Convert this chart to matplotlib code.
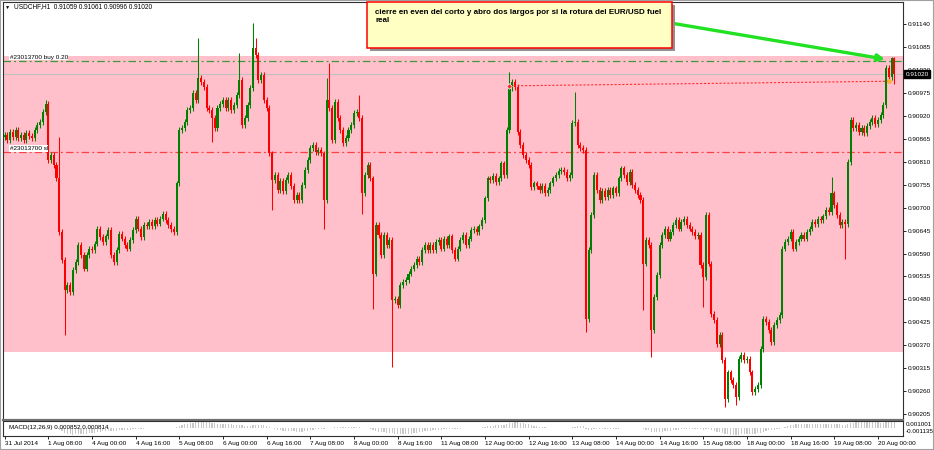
import numpy as np
import pandas as pd
import matplotlib
matplotlib.use('Agg')
import matplotlib.pyplot as plt
from matplotlib.patches import Rectangle
from matplotlib.transforms import blended_transform_factory

plt.rcParams['font.family'] = ['Liberation Sans', 'DejaVu Sans']

# USDCHF H1 closes, in points (1e-5) above 0.90000
closes = [
    874, 862, 881, 869, 886, 866, 874, 862, 878, 871, 866,
    886, 898, 905, 929, 948, 814, 826, 802, 770, 641,
    574, 502, 514, 497, 550, 569, 610, 586, 554, 586,
    602, 598, 614, 650, 629, 617, 631, 646, 586, 569,
    598, 638, 626, 610, 602, 622, 646, 674, 650, 629,
    658, 655, 665, 655, 670, 662, 674, 684, 670, 658,
    648, 641, 758, 886, 890, 905, 934, 938, 974, 958,
    1010, 1001, 989, 938, 934, 914, 890, 938, 948, 958,
    938, 958, 934, 946, 970, 1006, 898, 914, 946, 986,
    1082, 1066, 1006, 1018, 958, 938, 830, 766, 778, 742,
    763, 739, 766, 778, 751, 718, 730, 718, 754, 790,
    814, 843, 850, 833, 838, 830, 718, 958, 938, 862,
    953, 914, 886, 854, 866, 886, 898, 926, 929, 914,
    734, 778, 802, 770, 542, 658, 634, 586, 634, 610,
    622, 478, 482, 466, 514, 521, 526, 542, 554, 562,
    578, 569, 598, 610, 598, 610, 598, 617, 622, 602,
    626, 610, 631, 598, 578, 602, 622, 634, 610, 626,
    646, 650, 641, 655, 670, 722, 770, 766, 775, 761,
    770, 806, 778, 886, 986, 1001, 989, 881, 850, 826,
    814, 802, 749, 758, 751, 742, 751, 734, 742, 758,
    770, 778, 787, 790, 785, 770, 778, 902, 905, 850,
    843, 838, 434, 598, 682, 778, 742, 718, 739, 725,
    742, 730, 746, 734, 770, 794, 778, 761, 785, 754,
    742, 730, 718, 566, 622, 610, 406, 485, 538, 610,
    634, 650, 626, 641, 658, 670, 650, 665, 674, 658,
    650, 641, 631, 634, 562, 533, 682, 566, 446, 430,
    374, 394, 334, 242, 305, 286, 274, 245, 338, 346,
    334, 338, 305, 257, 266, 274, 362, 434, 425, 406,
    377, 418, 430, 442, 602, 617, 626, 641, 602, 617,
    626, 634, 626, 641, 650, 665, 660, 674, 670, 679,
    694, 689, 734, 706, 682, 658, 665, 660, 809, 910,
    890, 898, 881, 890, 878, 895, 905, 914, 900, 910,
    922, 946, 1034, 1013, 1059, 1020,
]
first_open = 870
# wicks that stand out: bar -> (high, low), None = ordinary wick
spikes = {
    15: (958, None), 20: (869, None), 22: (None, 394), 71: (1106, None),
    76: (None, 857), 86: (1070, None), 91: (1142, None), 92: (1106, None),
    98: (None, 694), 117: (None, 650), 118: (1010, None), 119: (1046, None),
    130: (970, None), 131: (None, 686), 135: (None, 458), 142: (None, 317),
    185: (1025, None), 209: (977, None), 213: (None, 401), 234: (None, 454),
    237: (None, 341), 256: (None, 461), 264: (None, 221), 268: (None, 226),
    303: (773, None), 308: (None, 578), 325: (1061, None), 326: (1061, 996),
}
wick = 7  # ordinary wick length, points

time_labels = ['31 Jul 2014', '1 Aug 08:00', '4 Aug 00:00', '4 Aug 16:00', '5 Aug 08:00',
               '6 Aug 00:00', '6 Aug 16:00', '7 Aug 08:00', '8 Aug 00:00', '8 Aug 16:00',
               '11 Aug 08:00', '12 Aug 00:00', '12 Aug 16:00', '13 Aug 08:00', '14 Aug 00:00',
               '14 Aug 16:00', '15 Aug 08:00', '18 Aug 00:00', '18 Aug 16:00', '19 Aug 08:00',
               '20 Aug 00:00']
label_step = 16

band = (353, 1063)
buy_level = 1051
sl_level = 833
bid = 1020
trade_bars = [185, 324]
trade_prices = [992, 1003]
note = 'cierre en even del corto y abro dos largos por si la rotura del EUR/USD fuel\nreal'


def px(v):
    return 0.9 + np.asarray(v, dtype=float) / 1e5


c = np.array(closes, dtype=float)
o = np.r_[first_open, c[:-1]]
hi = np.maximum(o, c) + wick
lo = np.minimum(o, c) - wick
for k, (h, l) in spikes.items():
    if h is not None:
        hi[k] = h
    if l is not None:
        lo[k] = l
n = len(c)
x = np.arange(n)
cols = np.where(c >= o, '#008000', '#FF0000')

fig = plt.figure(figsize=(9.34, 4.5), dpi=100)
W, H = 934, 450
ax = fig.add_axes([3 / W, 1 - 420 / H, 900 / W, 418 / H])
ax2 = fig.add_axes([3 / W, 1 - 436 / H, 900 / W, 15 / H])

xlim = (-0.6, 329.2)
ax.set_xlim(*xlim)
ax.set_ylim(px(191), px(1193))

ax.axhspan(px(band[0]), px(band[1]), color='#FFC0CB', lw=0, zorder=0)
ax.axhline(px(bid), color='#C0C0C0', lw=0.8, zorder=1)
ax.axhline(px(buy_level), color='#3A9A3A', lw=0.9, ls=(0, (6, 2.5, 1.5, 2.5)), zorder=2)
ax.axhline(px(sl_level), color='#FF4040', lw=0.9, ls=(0, (6, 2.5, 1.5, 2.5)), zorder=2)

ax.vlines(x, px(lo), px(hi), colors=cols, lw=0.75, zorder=3)
ax.bar(x, np.maximum(np.abs(c - o), 1) / 1e5, bottom=px(np.minimum(o, c)),
       width=0.75, color=cols, lw=0, zorder=4)

ax.plot(trade_bars, px(trade_prices), color='#FF3030', lw=0.8, ls=(0, (2, 1.5)), zorder=5)
ax.plot(trade_bars[0], px(trade_prices[0]), marker='D', ms=2.8, color='#FF2020',
        mec='white', mew=0.5, zorder=6)
ax.plot(trade_bars[1], px(trade_prices[1]), marker='o', ms=2.4, color='#FFB030', zorder=6)

lbl = dict(fontsize=4.6, va='center', ha='left', zorder=7,
           bbox=dict(facecolor='white', edgecolor='none', pad=0.4))
ax.text(1.8, px(1061), '#23013700 buy 0.20', **lbl)
ax.text(1.8, px(842), '#23013700 sl', **lbl)

ax.yaxis.tick_right()
yt = px(np.arange(1140, 200, -55))
ax.set_yticks(yt)
ax.set_yticklabels([f'{t:.5f}' for t in yt])
ax.tick_params(axis='y', direction='out', length=2, width=0.6, labelsize=4.6, pad=1.5)
ax.set_xticks([])
for s in ax.spines.values():
    s.set_color('#303030')
    s.set_linewidth(0.8)
ax.spines['bottom'].set_color('#707070')
ax.spines['bottom'].set_linewidth(1.6)

tr = blended_transform_factory(ax.transAxes, ax.transData)
ax.text(1.003, px(bid), f'{px(bid):.5f}', transform=tr, color='white', fontsize=4.6,
        va='center', ha='left', bbox=dict(facecolor='black', edgecolor='black', pad=0.9),
        zorder=8, clip_on=False)

# note box with shadow and arrow
fig.patches.append(Rectangle((370 / W, 1 - 51 / H), 305 / W, 46 / H, transform=fig.transFigure,
                             facecolor='#909090', edgecolor='none', zorder=9))
fig.patches.append(Rectangle((367 / W, 1 - 48 / H), 305 / W, 46 / H, transform=fig.transFigure,
                             facecolor='#FFFFC4', edgecolor='#FF0000', lw=1.1, zorder=10))
fig.text(375 / W, 1 - 9 / H, note, fontsize=5.75, weight='bold', va='top', ha='left',
         linespacing=1.2, zorder=11)
ax.annotate('', xy=(322.6, px(1056)), xytext=(244.7, px(1142)),
            arrowprops=dict(arrowstyle='-|>', color='#22E022', lw=2.4, mutation_scale=10,
                            shrinkA=0, shrinkB=0), zorder=8, annotation_clip=False)

fig.text(5 / W, 1 - 7 / H, '▼', fontsize=3.8, va='center', ha='left')
fig.text(14 / W, 1 - 7 / H, 'USDCHF,H1  0.91059 0.91061 0.90996 0.91020', fontsize=4.7,
         va='center', ha='left')

# MACD panel, computed from the closes as the terminal does
s = pd.Series(px(c))
macd = s.ewm(span=12, adjust=False).mean() - s.ewm(span=26, adjust=False).mean()
ax2.bar(x, macd.values, width=0.45, color='#C8C8C8', lw=0)
ax2.set_xlim(*xlim)
ax2.set_ylim(-0.001135, 0.001001)
ax2.set_yticks([])
ax2.text(1.5, 0.6, 'MACD(12,26,9) 0.000852 0.000814', fontsize=4.5, va='center',
         transform=blended_transform_factory(ax2.transData, ax2.transAxes))
ax2.text(1.003, 0.78, '0.001001', fontsize=4.5, va='center', transform=ax2.transAxes)
ax2.text(1.003, 0.3, '-0.001135', fontsize=4.5, va='center', transform=ax2.transAxes)
ax2.set_xticks(np.arange(len(time_labels)) * label_step)
ax2.set_xticklabels(time_labels, ha='left')
ax2.tick_params(axis='x', direction='out', length=2, width=0.6, labelsize=4.6, pad=1.5)
for s_ in ax2.spines.values():
    s_.set_color('#303030')
    s_.set_linewidth(0.8)

fig.patches.append(Rectangle((0, 0), 1, 1, transform=fig.transFigure, fill=False,
                             edgecolor='#A0A0A0', lw=1.5))
fig.savefig('out.png', dpi=100)
